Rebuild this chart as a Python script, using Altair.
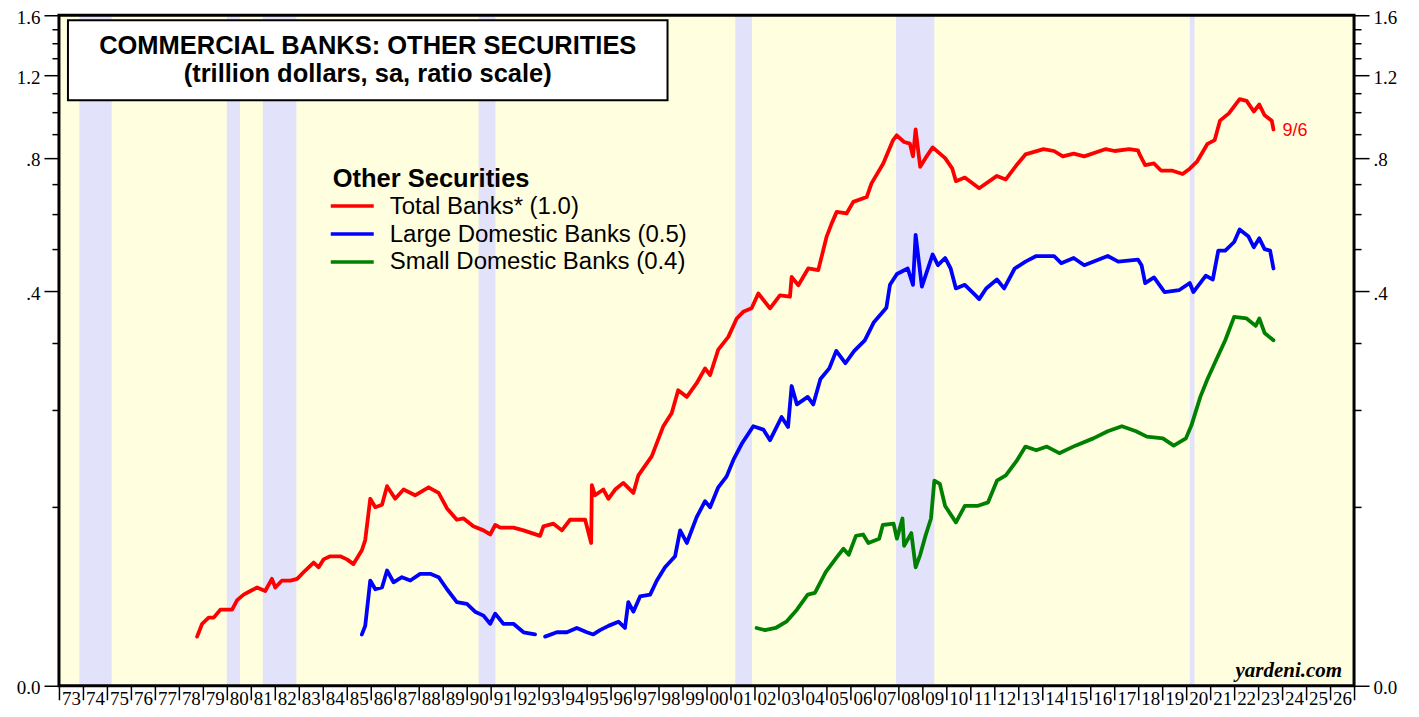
import altair as alt
import pandas as pd

# ---------------- data ----------------
red_years = [1978.76, 1978.97, 1979.24, 1979.45, 1979.73, 1980.08, 1980.22, 1980.43, 1980.70, 1980.98,
             1981.26, 1981.60, 1981.88, 1982.02, 1982.30, 1982.65, 1982.93, 1983.27, 1983.62, 1983.83,
             1984.03, 1984.31, 1984.73, 1985.01, 1985.28, 1985.63, 1985.77, 1985.98, 1986.19, 1986.47,
             1986.68, 1987.02, 1987.37, 1987.85, 1988.41, 1988.83, 1989.18, 1989.59, 1989.87, 1990.28,
             1990.70, 1990.98, 1991.19, 1991.40, 1991.95, 1992.37, 1993.06, 1993.20, 1993.62, 1993.97,
             1994.31, 1994.94, 1995.19, 1995.22, 1995.35, 1995.70, 1995.91, 1996.19, 1996.53, 1996.95,
             1997.16, 1997.72, 1998.20, 1998.55, 1998.82, 1999.18, 1999.59, 1999.94, 2000.15, 2000.49,
             2000.91, 2001.26, 2001.53, 2001.88, 2002.16, 2002.65, 2003.06, 2003.48, 2003.55, 2003.83,
             2004.24, 2004.66, 2005.01, 2005.22, 2005.43, 2005.84, 2006.12, 2006.68, 2006.88, 2007.37,
             2007.78, 2007.93, 2008.24, 2008.48, 2008.61, 2008.72, 2008.91, 2009.13, 2009.43, 2009.95,
             2010.25, 2010.40, 2010.77, 2011.37, 2012.11, 2012.48, 2012.93, 2013.30, 2014.05, 2014.49,
             2014.86, 2015.31, 2015.75, 2016.65, 2017.02, 2017.62, 2017.99, 2018.06, 2018.29, 2018.66,
             2018.95, 2019.40, 2019.85, 2020.15, 2020.45, 2020.89, 2021.19, 2021.41, 2021.78, 2022.23,
             2022.52, 2022.82, 2023.05, 2023.27, 2023.57, 2023.64]
red_values = [0.020, 0.026, 0.029, 0.029, 0.033, 0.033, 0.033, 0.038, 0.041, 0.043,
              0.045, 0.043, 0.050, 0.045, 0.049, 0.049, 0.050, 0.055, 0.060, 0.057,
              0.062, 0.064, 0.064, 0.062, 0.059, 0.068, 0.075, 0.107, 0.100, 0.102,
              0.118, 0.107, 0.115, 0.110, 0.117, 0.112, 0.099, 0.090, 0.091, 0.085,
              0.082, 0.079, 0.086, 0.084, 0.084, 0.082, 0.078, 0.085, 0.087, 0.082,
              0.090, 0.090, 0.073, 0.119, 0.110, 0.115, 0.107, 0.115, 0.121, 0.112,
              0.128, 0.147, 0.180, 0.196, 0.226, 0.217, 0.236, 0.258, 0.248, 0.288,
              0.310, 0.344, 0.357, 0.364, 0.395, 0.364, 0.391, 0.388, 0.432, 0.413,
              0.452, 0.448, 0.535, 0.573, 0.608, 0.603, 0.640, 0.656, 0.703, 0.777,
              0.873, 0.894, 0.865, 0.858, 0.805, 0.920, 0.764, 0.798, 0.842, 0.798,
              0.757, 0.711, 0.724, 0.686, 0.730, 0.717, 0.771, 0.813, 0.835, 0.827,
              0.805, 0.816, 0.805, 0.835, 0.827, 0.835, 0.830, 0.813, 0.771, 0.777,
              0.750, 0.750, 0.737, 0.757, 0.784, 0.857, 0.873, 0.961, 0.996, 1.068,
              1.059, 1.005, 1.040, 0.987, 0.961, 0.920]

blue_years = [1985.63, 1985.77, 1985.98, 1986.19, 1986.47, 1986.68, 1986.95, 1987.30, 1987.65, 1988.06,
              1988.48, 1988.83, 1989.18, 1989.59, 1990.01, 1990.35, 1990.70, 1990.98, 1991.19, 1991.53,
              1991.95, 1992.37, 1992.85, 1993.05, 1993.27, 1993.76, 1994.18, 1994.59, 1995.01, 1995.28,
              1995.56, 1995.91, 1996.33, 1996.60, 1996.74, 1996.95, 1997.23, 1997.65, 1997.93, 1998.27,
              1998.69, 1998.90, 1999.18, 1999.59, 1999.94, 2000.15, 2000.49, 2000.84, 2001.12, 2001.47,
              2001.95, 2002.37, 2002.65, 2003.13, 2003.40, 2003.55, 2003.77, 2004.22, 2004.45, 2004.75,
              2005.12, 2005.41, 2005.79, 2006.16, 2006.60, 2006.98, 2007.50, 2007.65, 2007.94, 2008.39,
              2008.61, 2008.72, 2008.98, 2009.28, 2009.43, 2009.65, 2009.95, 2010.18, 2010.40, 2010.77,
              2011.22, 2011.37, 2011.66, 2012.11, 2012.41, 2012.85, 2013.30, 2013.75, 2014.49, 2014.79,
              2015.31, 2015.75, 2016.73, 2017.17, 2017.99, 2018.14, 2018.29, 2018.66, 2019.10, 2019.70,
              2020.15, 2020.30, 2020.82, 2021.11, 2021.34, 2021.63, 2022.00, 2022.23, 2022.60, 2022.82,
              2023.05, 2023.27, 2023.50, 2023.64]
blue_values = [0.021, 0.025, 0.049, 0.044, 0.045, 0.055, 0.048, 0.051, 0.049, 0.053,
               0.053, 0.051, 0.044, 0.037, 0.036, 0.032, 0.030, 0.026, 0.031, 0.026,
               0.026, 0.022, 0.021, None, 0.020, 0.022, 0.022, 0.024, 0.022, 0.021,
               0.023, 0.025, 0.027, 0.024, 0.037, 0.032, 0.040, 0.041, 0.049, 0.057,
               0.064, 0.082, 0.073, 0.092, 0.105, 0.100, 0.117, 0.127, 0.143, 0.160,
               0.180, 0.176, 0.164, 0.191, 0.179, 0.232, 0.207, 0.217, 0.207, 0.242,
               0.258, 0.286, 0.266, 0.286, 0.304, 0.337, 0.365, 0.414, 0.439, 0.452,
               0.414, 0.540, 0.410, 0.460, 0.487, 0.460, 0.478, 0.452, 0.406, 0.414,
               0.391, 0.383, 0.406, 0.426, 0.406, 0.452, 0.469, 0.483, 0.483, 0.465,
               0.478, 0.460, 0.483, 0.469, 0.474, 0.460, 0.418, 0.431, 0.398, 0.402,
               0.418, 0.398, 0.435, 0.426, 0.497, 0.497, 0.520, 0.555, 0.535, 0.506,
               0.530, 0.501, 0.497, 0.452]

green_years = [2002.09, 2002.44, 2002.88, 2003.33, 2003.77, 2004.22, 2004.52, 2004.97, 2005.41, 2005.71,
               2005.93, 2006.23, 2006.53, 2006.75, 2007.20, 2007.35, 2007.80, 2007.94, 2008.17, 2008.24,
               2008.54, 2008.72, 2008.91, 2009.13, 2009.36, 2009.50, 2009.73, 2009.95, 2010.40, 2010.77,
               2011.29, 2011.74, 2012.11, 2012.48, 2012.93, 2013.30, 2013.75, 2014.19, 2014.71, 2015.38,
               2016.13, 2016.73, 2017.32, 2017.91, 2018.36, 2019.03, 2019.48, 2019.99, 2020.22, 2020.59,
               2020.89, 2021.26, 2021.63, 2022.00, 2022.52, 2022.90, 2023.05, 2023.27, 2023.64]
green_values = [0.024, 0.023, 0.024, 0.027, 0.033, 0.041, 0.042, 0.054, 0.063, 0.069,
                0.065, 0.078, 0.079, 0.073, 0.076, 0.086, 0.087, 0.076, 0.091, 0.071,
                0.080, 0.057, 0.065, 0.078, 0.091, 0.123, 0.120, 0.101, 0.088, 0.101,
                0.101, 0.104, 0.123, 0.128, 0.142, 0.157, 0.153, 0.157, 0.150, 0.158,
                0.166, 0.174, 0.180, 0.174, 0.168, 0.166, 0.158, 0.166, 0.181, 0.217,
                0.242, 0.272, 0.304, 0.347, 0.344, 0.330, 0.344, 0.317, 0.304]

rec_start = [1973.85, 1980.0, 1981.5, 1990.5, 2001.2, 2007.9, 2020.15]
rec_end = [1975.2, 1980.55, 1982.9, 1991.2, 2001.9, 2009.5, 2020.35]

x_ticks = list(range(1973, 2028))
y_major = [0, 0.4, 0.8, 1.2, 1.6]
y_minor = [0.1, 0.2, 0.3, 0.5, 0.6, 0.7, 0.9, 1.0, 1.1, 1.3, 1.4, 1.5]

title_lines = ["COMMERCIAL BANKS: OTHER SECURITIES", "(trillion dollars, sa, ratio scale)"]
legend_title = "Other Securities"
legend_labels = ["Total Banks* (1.0)", "Large Domestic Banks (0.5)", "Small Domestic Banks (0.4)"]
colors = ["#FF0000", "#0000FF", "#008000"]
end_label = "9/6"

# ---------------- chart ----------------
W, H = 1296, 671

red_df = pd.DataFrame({"year": red_years, "value": red_values})
blue_df = pd.DataFrame({"year": blue_years, "value": blue_values})
green_df = pd.DataFrame({"year": green_years, "value": green_values})
rec_df = pd.DataFrame({"start": rec_start, "end": rec_end})
one = pd.DataFrame({"a": [0]})

x_scale = alt.Scale(domain=[1973, 2027], nice=False, zero=False)
y_scale = alt.Scale(type="symlog", constant=0.08, domain=[0, 1.6], nice=False)

x_axis = alt.Axis(values=x_ticks,
                  labelExpr="datum.value >= 2027 ? '' : substring(toString(datum.value), 2, 4)",
                  labelOffset=12, tickSize=14, tickWidth=1.5, tickColor="black",
                  labelFont="Liberation Serif", labelFontSize=19, labelColor="black",
                  labelPadding=-10, labelOverlap=False, labelFlush=False,
                  domain=False, grid=False, title=None)

y_lab = ("datum.value == 0 ? '0.0' : (datum.value < 1 ? '.' + format(datum.value * 10, '.0f') "
         ": format(datum.value, '.1f'))")


def y_axis(orient, values, size, labels):
    kw = dict(orient=orient, values=values, tickSize=size, tickWidth=1.5, tickColor="black",
              domain=False, grid=False, title=None, labels=labels)
    if labels:
        kw.update(labelExpr=y_lab, labelFont="Liberation Serif", labelFontSize=19,
                  labelColor="black", labelPadding=4, labelFlush=False, labelOverlap=False,
                  labelOffset=2)
    return alt.Axis(**kw)


def series(df, color, yax):
    return alt.Chart(df).mark_line(color=color, strokeWidth=3.8, strokeJoin="round",
                                   strokeCap="round").encode(
        x=alt.X("year:Q", scale=x_scale, axis=x_axis),
        y=alt.Y("value:Q", scale=y_scale, axis=yax),
    )


rec = alt.Chart(rec_df).mark_rect(color="#E2E2FA").encode(
    x=alt.X("start:Q", scale=x_scale, axis=x_axis), x2="end:Q")

red = series(red_df, colors[0], y_axis("left", y_major, 15, True))
blue = series(blue_df, colors[1], y_axis("left", y_minor, 7, False))
green = series(green_df, colors[2], y_axis("right", y_major, 15, True))

end_df = pd.DataFrame({"year": [red_years[-1]], "value": [red_values[-1]], "label": [end_label]})
end_txt = alt.Chart(end_df).mark_text(align="left", baseline="middle", dx=9, dy=2,
                                      font="Liberation Sans", fontSize=18, color=colors[0]).encode(
    x=alt.X("year:Q", scale=x_scale, axis=x_axis),
    y=alt.Y("value:Q", scale=y_scale, axis=y_axis("right", y_minor, 7, False)),
    text="label:N")

box = alt.Chart(one).mark_rect(fill="white", stroke="black", strokeWidth=2).encode(
    x=alt.value(9), x2=alt.value(609), y=alt.value(5), y2=alt.value(85))

t1 = alt.Chart(one).mark_text(text=title_lines[0], font="Liberation Sans", fontSize=25.5,
                              fontWeight="bold", align="center", baseline="alphabetic",
                              color="black").encode(x=alt.value(309), y=alt.value(39))
t2 = alt.Chart(one).mark_text(text=title_lines[1], font="Liberation Sans", fontSize=25.5,
                              fontWeight="bold", align="center", baseline="alphabetic",
                              color="black").encode(x=alt.value(309), y=alt.value(67))

lg_head = alt.Chart(one).mark_text(text=legend_title, font="Liberation Sans", fontSize=25.5,
                                   fontWeight="bold", align="left", baseline="alphabetic",
                                   color="black").encode(x=alt.value(274), y=alt.value(172))

legend_layers = []
line_y = [191, 219, 247]
text_y = [199, 227, 254]
for lab, col, ly, ty in zip(legend_labels, colors, line_y, text_y):
    legend_layers.append(alt.Chart(one).mark_rule(color=col, strokeWidth=3.5).encode(
        x=alt.value(272), x2=alt.value(315), y=alt.value(ly)))
    legend_layers.append(alt.Chart(one).mark_text(text=lab, font="Liberation Sans", fontSize=24,
                                                  align="left", baseline="alphabetic",
                                                  color="black").encode(
        x=alt.value(331), y=alt.value(ty)))

credit = alt.Chart(one).mark_text(text="yardeni.com", font="Liberation Serif", fontSize=21,
                                  fontWeight="bold", fontStyle="italic", align="right",
                                  baseline="alphabetic", color="black").encode(
    x=alt.value(1284), y=alt.value(662))

frame = alt.Chart(one).mark_rect(filled=False, stroke="black", strokeWidth=3).encode(
    x=alt.value(0), x2=alt.value(W), y=alt.value(0), y2=alt.value(H))

chart = alt.layer(rec, red, blue, green, end_txt, box, t1, t2, lg_head, *legend_layers,
                  credit, frame).resolve_axis(y="independent").properties(
    width=W, height=H, autosize="none",
    padding={"left": 51, "top": 7, "right": 57, "bottom": 23},
    background="white",
).configure_view(fill="#FFFFE0", strokeWidth=0)

chart.save("out.html", embed_options={"renderer": "svg", "actions": False})
